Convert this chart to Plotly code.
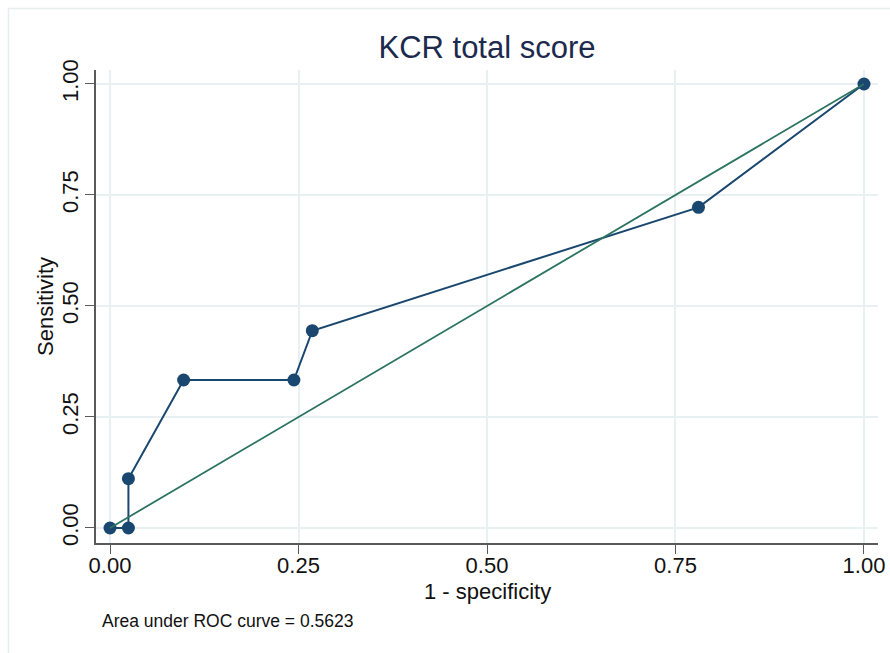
import plotly.graph_objects as go

# ROC coordinates for the KCR total score
fpr = [0.0, 0.0244, 0.0244, 0.0976, 0.2439, 0.2683, 0.7805, 1.0]   # 1 - specificity
tpr = [0.0, 0.0, 0.1111, 0.3333, 0.3333, 0.4444, 0.7222, 1.0]      # sensitivity
ref_x = [0.0, 1.0]
ref_y = [0.0, 1.0]
tick_vals = [0.0, 0.25, 0.5, 0.75, 1.0]
tick_text = ["0.00", "0.25", "0.50", "0.75", "1.00"]
auc = 0.5623

W, H = 890, 653
ML, MR, MT, MB = 96, 12, 70, 110
PW, PH = W - ML - MR, H - MT - MB

NAVY = "#1a476f"
GREEN = "#2c7461"
GRID = "#e9f0f2"
AXIS = "#5a5a5a"
FONT = "Liberation Sans, Arial, Helvetica, sans-serif"


def px_x(p):
    return (p - ML) / PW


def px_y(p):
    return (H - MB - p) / PH


fig = go.Figure()
fig.add_trace(go.Scatter(
    x=fpr, y=tpr, mode="lines+markers",
    line=dict(color=NAVY, width=2),
    marker=dict(color=NAVY, size=13),
    showlegend=False, cliponaxis=False,
))
fig.add_trace(go.Scatter(
    x=ref_x, y=ref_y, mode="lines",
    line=dict(color=GREEN, width=1.8),
    showlegend=False, cliponaxis=False,
))

axis_common = dict(
    tickvals=tick_vals, ticktext=tick_text,
    showgrid=True, gridcolor=GRID, gridwidth=1.6,
    zeroline=False, showline=True, linecolor=AXIS, linewidth=1.6,
    ticks="outside", ticklen=9, tickwidth=1.4, tickcolor=AXIS,
    tickfont=dict(family=FONT, size=22, color="#111111"),
    mirror=False, automargin=False,
)

fig.update_layout(
    width=W, height=H,
    margin=dict(l=ML, r=MR, t=MT, b=MB),
    paper_bgcolor="white", plot_bgcolor="white",
    font=dict(family=FONT, color="#111111"),
    title=dict(
        text="KCR total score", x=0.5, xref="paper",
        y=1 - 47 / H, yref="container", yanchor="middle", xanchor="center",
        font=dict(family=FONT, size=31, color="#1c2a4e"),
    ),
    xaxis=dict(range=[-0.0186, 1.0186], ticklabelstandoff=-7, **axis_common),
    yaxis=dict(range=[-0.0338, 1.0315], tickangle=-90, ticklabelstandoff=-2, **axis_common),
    annotations=[
        dict(
            text="1 - specificity", x=px_x(487), y=px_y(591),
            xref="paper", yref="paper", xanchor="center", yanchor="middle",
            showarrow=False, font=dict(family=FONT, size=22, color="#111111"),
        ),
        dict(
            text="Sensitivity", x=px_x(45), y=px_y(307), textangle=-90,
            xref="paper", yref="paper", xanchor="center", yanchor="middle",
            showarrow=False, font=dict(family=FONT, size=22, color="#111111"),
        ),
        dict(
            text=f"Area under ROC curve = {auc:.4f}",
            x=px_x(100), y=px_y(621), xref="paper", yref="paper",
            xanchor="left", yanchor="middle", showarrow=False,
            font=dict(family=FONT, size=17.5, color="#111111"),
        ),
    ],
    shapes=[dict(
        type="rect", xref="paper", yref="paper",
        x0=px_x(8.5), x1=px_x(W + 20), y0=px_y(H + 20), y1=px_y(8.5),
        line=dict(color="#e6eef0", width=1.5), fillcolor="rgba(0,0,0,0)", layer="below",
    )],
)

fig.write_html("out.html")
